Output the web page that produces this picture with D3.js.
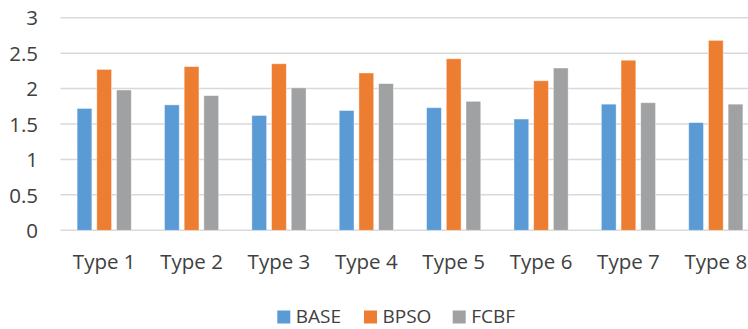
<!DOCTYPE html>
<html>
<head>
<meta charset="utf-8">
<script src="https://cdn.jsdelivr.net/npm/d3@7"></script>
<style>
  html, body { margin: 0; padding: 0; background: #fff; }
  svg { display: block; }
  text { font-family: "Open Sans", "Noto Sans", sans-serif; fill: #404040; }
</style>
</head>
<body>
<svg id="chart" width="748" height="329"></svg>
<script>
const categories = ["Type 1", "Type 2", "Type 3", "Type 4", "Type 5", "Type 6", "Type 7", "Type 8"];
const seriesNames = ["BASE", "BPSO", "FCBF"];
const base = [1.72, 1.77, 1.62, 1.69, 1.73, 1.57, 1.78, 1.52];
const bpso = [2.27, 2.31, 2.35, 2.22, 2.42, 2.11, 2.40, 2.68];
const fcbf = [1.98, 1.90, 2.01, 2.07, 1.82, 2.29, 1.80, 1.78];
const yTicks = [0, 0.5, 1, 1.5, 2, 2.5, 3];
const colors = ["#5b9bd5", "#ed7d31", "#a0a1a3"];

const seriesValues = [base, bpso, fcbf];
const svg = d3.select("#chart");

const plotLeft = 60.5, plotRight = 759.5, plotTop = 17.7, plotBottom = 230.3;

const x = d3.scaleBand().domain(categories).range([plotLeft, plotRight]).paddingInner(0.38).paddingOuter(0.19);
const xs = d3.scaleBand().domain(seriesNames).range([0, x.bandwidth()]).paddingInner(0.25);
const y = d3.scaleLinear().domain([0, 3]).range([plotBottom, plotTop]);

// horizontal gridlines
svg.append("g").selectAll("line").data(yTicks).join("line")
  .attr("x1", plotLeft).attr("x2", 748)
  .attr("y1", d => y(d)).attr("y2", d => y(d))
  .attr("stroke", "#d9d9d9").attr("stroke-width", 1.5);

// y-axis labels
const yAxis = d3.axisLeft(y).tickValues(yTicks).tickSize(0).tickPadding(0).tickFormat(d3.format("~g"));
const yg = svg.append("g").attr("transform", "translate(38,0)").call(yAxis);
yg.select(".domain").remove();
yg.selectAll("text").attr("font-size", 20.5).attr("fill", "#404040").attr("dy", "0.35em")
  .style("font-family", "'Open Sans', 'Noto Sans', sans-serif");

// bars
const groups = svg.append("g").selectAll("g").data(categories).join("g")
  .attr("transform", d => `translate(${x(d)},0)`);
groups.selectAll("rect")
  .data((c, i) => seriesNames.map((s, k) => ({ s, k, v: seriesValues[k][i] })))
  .join("rect")
  .attr("x", d => xs(d.s))
  .attr("width", xs.bandwidth())
  .attr("y", d => y(d.v))
  .attr("height", d => y(0) - y(d.v))
  .attr("fill", d => colors[d.k])
  .attr("stroke", "#ffffff").attr("stroke-opacity", 0.5).attr("stroke-width", 0.8);

// x-axis labels
const xAxis = d3.axisBottom(x).tickSize(0).tickPadding(0);
const xg = svg.append("g").attr("transform", `translate(0,${plotBottom})`).call(xAxis);
xg.select(".domain").remove();
xg.selectAll("text").attr("font-size", 20.5).attr("fill", "#404040").attr("y", 38.3).attr("dy", 0)
  .style("font-family", "'Open Sans', 'Noto Sans', sans-serif");

// legend
const legendX = [277.3, 364, 452.7];
const legend = svg.append("g").selectAll("g").data(seriesNames).join("g")
  .attr("transform", (d, i) => `translate(${legendX[i]},310.5)`);
legend.append("rect").attr("width", 13).attr("height", 13)
  .attr("fill", (d, i) => colors[i]);
legend.append("text").attr("x", 18.5).attr("y", 12.8).attr("font-size", 19)
  .text(d => d);
</script>
</body>
</html>
